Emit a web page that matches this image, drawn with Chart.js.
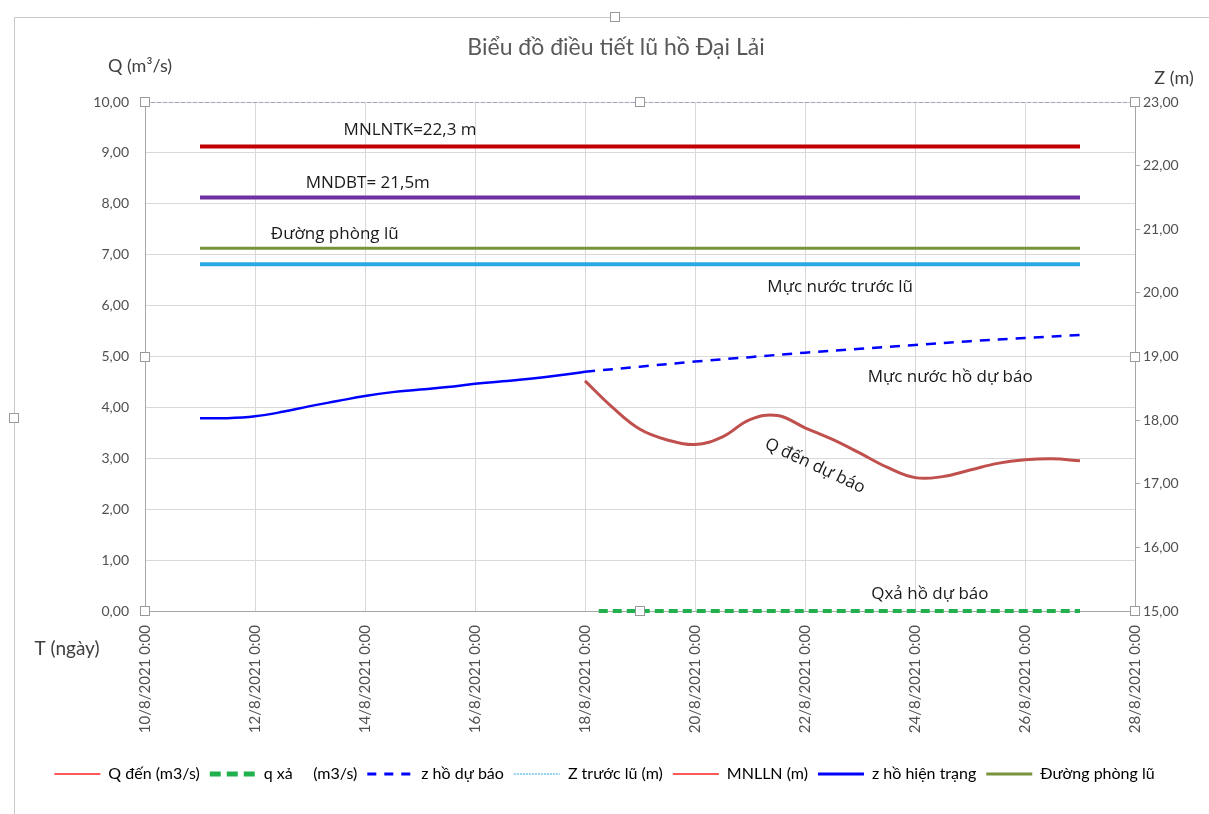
<!DOCTYPE html>
<html>
<head>
<meta charset="utf-8">
<script src="https://cdn.jsdelivr.net/npm/chart.js@4.4.0/dist/chart.umd.min.js"></script>
<style>
  html, body { margin: 0; padding: 0; background: #fff; }
  #wrap { width: 1209px; height: 814px; }
</style>
</head>
<body>
<div id="wrap"><canvas id="chart" width="1209" height="814"></canvas></div>
<script>
// truc thoi gian
const tickLabels = ['10/8/2021 0:00', '12/8/2021 0:00', '14/8/2021 0:00', '16/8/2021 0:00', '18/8/2021 0:00',
  '20/8/2021 0:00', '22/8/2021 0:00', '24/8/2021 0:00', '26/8/2021 0:00', '28/8/2021 0:00'];

// z ho hien trang (m)
const tHienTrang = ['11/8/2021 0:00', '11/8/2021 12:00', '12/8/2021 0:00', '12/8/2021 12:00', '13/8/2021 0:00',
  '13/8/2021 12:00', '14/8/2021 0:00', '14/8/2021 12:00', '15/8/2021 0:00', '15/8/2021 12:00', '16/8/2021 0:00',
  '16/8/2021 12:00', '17/8/2021 0:00', '17/8/2021 12:00', '18/8/2021 0:00'];
const zHienTrang = [18.03, 18.03, 18.06, 18.13, 18.22, 18.30, 18.38, 18.44, 18.48, 18.52, 18.57, 18.61, 18.65, 18.70, 18.76];

// z ho du bao (m)
const tDuBaoZ = ['18/8/2021 0:00', '19/8/2021 0:00', '20/8/2021 0:00', '21/8/2021 0:00', '22/8/2021 0:00',
  '23/8/2021 0:00', '24/8/2021 0:00', '25/8/2021 0:00', '26/8/2021 0:00', '27/8/2021 0:00'];
const zDuBao = [18.76, 18.84, 18.92, 18.99, 19.06, 19.12, 19.18, 19.24, 19.29, 19.34];

// Q den du bao (m3/s)
const tQDen = ['18/8/2021 0:00', '18/8/2021 12:00', '19/8/2021 0:00', '19/8/2021 12:00', '20/8/2021 0:00',
  '20/8/2021 12:00', '21/8/2021 0:00', '21/8/2021 12:00', '22/8/2021 0:00', '22/8/2021 12:00', '23/8/2021 0:00',
  '23/8/2021 12:00', '24/8/2021 0:00', '24/8/2021 12:00', '25/8/2021 0:00', '25/8/2021 12:00', '26/8/2021 0:00',
  '26/8/2021 12:00', '27/8/2021 0:00'];
const qDen = [4.52, 4.0, 3.57, 3.36, 3.27, 3.42, 3.76, 3.84, 3.6, 3.37, 3.1, 2.82, 2.62, 2.64, 2.77, 2.9, 2.97, 2.99, 2.95];

// q xa (m3/s)
const tQXa = ['18/8/2021 6:00', '27/8/2021 0:00'];
const qXa = [0, 0];

// cac muc nuoc ngang (m)
const tNgang = ['11/8/2021 0:00', '27/8/2021 0:00'];
const zMNLLN = [22.3, 22.3];
const zMNDBT = [21.5, 21.5];
const zPhongLu = [20.7, 20.7];
const zTruocLu = [20.45, 20.45];
const tKhung = ['10/8/2021 0:00', '28/8/2021 0:00'];
const zKhung = [23, 23];

// doi "dd/8/2021 hh:mm" ra so ngay tinh tu 10/8/2021 0:00
function toDay(s) {
  const [d, h] = s.split(' ');
  const day = parseInt(d.split('/')[0], 10);
  const [hh, mm] = h.split(':').map(Number);
  return day - 10 + (hh + mm / 60) / 24;
}
function pts(ts, vs) {
  return ts.map((t, i) => ({ x: toDay(t), y: vs[i] }));
}
const fmt = (v) => v.toFixed(2).replace('.', ',');

const annotations = [
  { text: 'MNLNTK=22,3 m', t: 4.82, v: 22.56, axis: 'yZ' },
  { text: 'MNDBT= 21,5m', t: 4.05, v: 21.73, axis: 'yZ' },
  { text: 'Đường phòng lũ', t: 3.45, v: 20.93, axis: 'yZ' },
  { text: 'Mực nước trước lũ', t: 12.64, v: 20.09, axis: 'yZ' },
  { text: 'Mực nước hồ dự báo', t: 14.64, v: 18.68, axis: 'yZ' },
  { text: 'Q đến dự báo', t: 12.18, v: 2.85, axis: 'yQ', rot: 25 },
  { text: 'Qxả hồ dự báo', t: 14.27, v: 0.33, axis: 'yQ' },
];

const extras = {
  id: 'extras',
  beforeDraw(chart) {
    const ctx = chart.ctx;
    ctx.save();
    ctx.fillStyle = '#fff';
    ctx.fillRect(0, 0, chart.width, chart.height);
    // khung bieu do
    ctx.strokeStyle = '#c9c9c9';
    ctx.lineWidth = 1;
    ctx.beginPath();
    ctx.moveTo(14.5, 814); ctx.lineTo(14.5, 17.5); ctx.lineTo(1209, 17.5);
    ctx.stroke();
    ctx.restore();
  },
  afterDraw(chart) {
    const ctx = chart.ctx;
    const a = chart.chartArea;
    const sx = chart.scales.x;
    ctx.save();
    ctx.fillStyle = '#595959';
    ctx.textAlign = 'center';
    ctx.textBaseline = 'middle';
    ctx.font = '23px Lato';
    ctx.fillText('Biểu đồ điều tiết lũ hồ Đại Lải', 616, 48);
    ctx.font = '18px Lato';
    ctx.fillStyle = '#404040';
    ctx.fillText('Q (m³/s)', 140, 66);
    ctx.fillText('Z (m)', 1174, 78);
    ctx.font = '19px Lato';
    ctx.fillText('T (ngày)', 67, 649);

    ctx.fillStyle = '#1a1a1a';
    ctx.font = '17px "Open Sans"';
    annotations.forEach((n) => {
      const px = sx.getPixelForValue(n.t);
      const py = chart.scales[n.axis].getPixelForValue(n.v);
      ctx.save();
      ctx.translate(px, py);
      if (n.rot) ctx.rotate(n.rot * Math.PI / 180);
      ctx.fillText(n.text, 0, 0);
      ctx.restore();
    });

    // o chon cua Excel
    const mx = (a.left + a.right) / 2, my = (a.top + a.bottom) / 2;
    const handles = [[a.left, a.top], [mx, a.top], [a.right, a.top], [a.left, my], [a.right, my],
      [a.left, a.bottom], [mx, a.bottom], [a.right, a.bottom], [615, 17], [14, 418]];
    ctx.strokeStyle = '#9a9a9a';
    ctx.fillStyle = '#fff';
    ctx.lineWidth = 1;
    handles.forEach(([hx, hy]) => {
      ctx.fillRect(Math.round(hx) - 5, Math.round(hy) - 5, 10, 10);
      ctx.strokeRect(Math.round(hx) - 4.5, Math.round(hy) - 4.5, 9, 9);
    });
    ctx.restore();
  },
};

const ctx = document.getElementById('chart').getContext('2d');
new Chart(ctx, {
  type: 'line',
  data: {
    datasets: [
      { label: 'Q đến (m3/s)', data: pts(tQDen, qDen), yAxisID: 'yQ', borderColor: '#c0504d', borderWidth: 3,
        tension: 0.4, pointRadius: 0, legendColor: '#ff2020', legendWidth: 1.5 },
      { label: 'q xả     (m3/s)', data: pts(tQXa, qXa), yAxisID: 'yQ', borderColor: '#22b04f', borderWidth: 4,
        borderDash: [9, 5], pointRadius: 0, clip: false, legendWidth: 5, legendDash: [11, 6] },
      { label: 'z hồ dự báo', data: pts(tDuBaoZ, zDuBao), yAxisID: 'yZ', borderColor: '#0000ff', borderWidth: 2.5,
        borderDash: [10, 8], tension: 0.4, pointRadius: 0, legendWidth: 3, legendDash: [9, 8] },
      { label: 'Z trước lũ (m)', data: pts(tNgang, zTruocLu), yAxisID: 'yZ', borderColor: '#2aa8e2', borderWidth: 4,
        pointRadius: 0, legendWidth: 1, legendDash: [2, 1] },
      { label: 'MNLLN (m)', data: pts(tNgang, zMNLLN), yAxisID: 'yZ', borderColor: '#c00000', borderWidth: 4,
        pointRadius: 0, legendColor: '#ff2020', legendWidth: 1.5 },
      { label: 'z hồ hiện trạng', data: pts(tHienTrang, zHienTrang), yAxisID: 'yZ', borderColor: '#0000ff',
        borderWidth: 2.5, tension: 0.4, pointRadius: 0, legendWidth: 3 },
      { label: 'Đường phòng lũ', data: pts(tNgang, zPhongLu), yAxisID: 'yZ', borderColor: '#77933c', borderWidth: 3,
        pointRadius: 0, legendWidth: 3 },
      { label: 'MNDBT', data: pts(tNgang, zMNDBT), yAxisID: 'yZ', borderColor: '#7030a0', borderWidth: 4,
        pointRadius: 0 },
      { label: 'khung', data: pts(tKhung, zKhung), yAxisID: 'yZ', borderColor: '#9890b4', borderWidth: 1.5,
        borderDash: [4, 2], pointRadius: 0 },
    ],
  },
  options: {
    responsive: false,
    animation: false,
    layout: { padding: { top: 102, left: 0, right: 0, bottom: 22 } },
    plugins: {
      title: { display: false },
      tooltip: { enabled: false },
      legend: {
        position: 'bottom',
        labels: {
          generateLabels: (chart) => chart.data.datasets.map((ds, i) => ({
            text: ds.label,
            datasetIndex: i,
            hidden: false,
            fillStyle: ds.legendColor || ds.borderColor,
            strokeStyle: ds.legendColor || ds.borderColor,
            lineWidth: ds.legendWidth || ds.borderWidth,
            lineDash: ds.legendDash || [],
            pointStyle: 'line',
          })),
          filter: (item) => item.text !== 'MNDBT' && item.text !== 'khung',
          usePointStyle: true,
          pointStyle: 'line',
          pointStyleWidth: 46,
          color: '#404040',
          font: { family: 'Lato', size: 16 },
          padding: 10,
        },
      },
    },
    scales: {
      x: {
        type: 'linear',
        min: 0,
        max: 18,
        afterBuildTicks: (s) => { s.ticks = tickLabels.map((_, i) => ({ value: i * 2 })); },
        afterFit: (s) => { s.height = s.chart.height - 611 - s.chart.legend.height - 22; },
        grid: { color: '#d9d9d9', drawTicks: false },
        border: { color: '#a6a6a6' },
        ticks: {
          minRotation: 90,
          maxRotation: 90,
          padding: 14,
          color: '#505050',
          font: { family: 'Lato', size: 15 },
          callback: (v) => tickLabels[Math.round(v / 2)],
        },
      },
      yQ: {
        position: 'left',
        min: 0,
        max: 10,
        afterFit: (s) => { s.width = 145; },
        grid: { color: '#d9d9d9', drawTicks: false },
        border: { color: '#a6a6a6' },
        ticks: { stepSize: 1, padding: 16, color: '#505050', font: { family: 'Lato', size: 14 }, callback: fmt },
      },
      yZ: {
        position: 'right',
        min: 15,
        max: 23,
        afterFit: (s) => { s.width = 1209 - 1135; },
        grid: { drawOnChartArea: false, color: '#a6a6a6', tickLength: 5 },
        border: { color: '#a6a6a6' },
        ticks: { stepSize: 1, padding: 3, color: '#505050', font: { family: 'Lato', size: 14 }, callback: fmt },
      },
    },
  },
  plugins: [extras],
});
</script>
</body>
</html>
